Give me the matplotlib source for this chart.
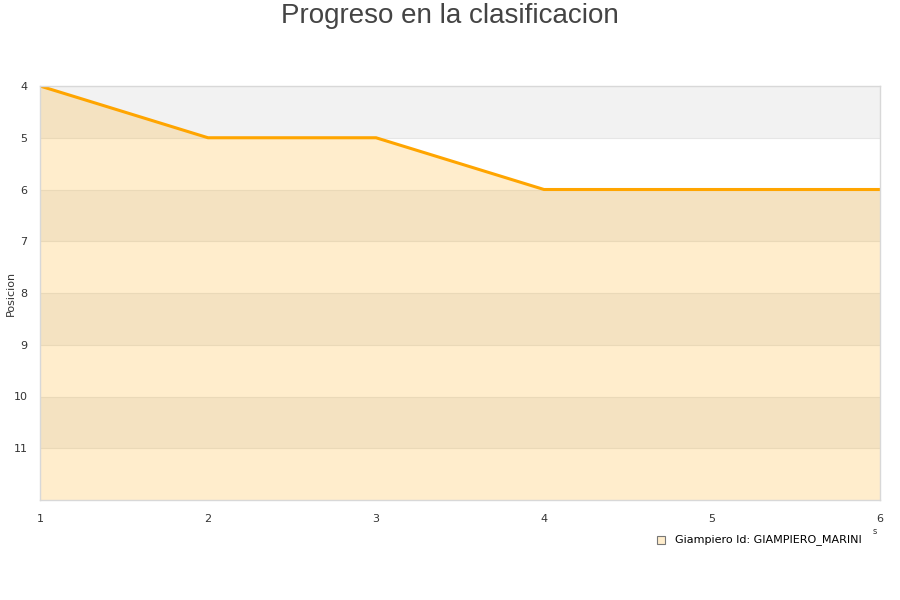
import matplotlib
matplotlib.use("Agg")
import matplotlib.pyplot as plt
from matplotlib.patches import Rectangle

jornadas = [1, 2, 3, 4, 5, 6]
posiciones = [4, 5, 5, 6, 6, 6]
x_ticks = [1, 2, 3, 4, 5, 6]
y_ticks = [4, 5, 6, 7, 8, 9, 10, 11]
serie = "Giampiero Id: GIAMPIERO_MARINI"
titulo = "Progreso en la clasificacion"

fig = plt.figure(figsize=(9, 6), dpi=100)
ax = fig.add_axes([40/900, 1-500/600, 840/900, 414/600])
ax.set_xlim(1, 6)
ax.set_ylim(12, 4)

# alternating bands
for y0 in range(4, 12):
    col = "#f2f2f2" if (y0 % 2 == 0) else "#ffffff"
    ax.axhspan(y0, y0 + 1, color=col, zorder=0, lw=0)
for y0 in range(5, 12):
    ax.axhline(y0, color="#e6e6e6", lw=0.8, zorder=0.5)

ax.fill_between(jornadas, posiciones, 12, color="#ffa500", alpha=0.2, lw=0, zorder=1)
ax.plot(jornadas, posiciones, color="#ffa500", lw=2.2, zorder=2, solid_joinstyle="miter")

ax.set_xticks(x_ticks)
ax.set_yticks(y_ticks)
ax.tick_params(length=0, labelsize=8, colors="#333333", pad=10)
ax.tick_params(axis="y", pad=9)
for s in ax.spines.values():
    s.set_color("#d8d8d8")
    s.set_linewidth(1)

fig.text(11/900, 1-293/600, "Posicion", fontsize=8, color="#333333",
         rotation=90, ha="center", va="center")

fig.text(0.5, 1-16/600, titulo, ha="center", va="center", fontsize=20,
         color="#444444", family="Liberation Sans")

fig.text(875/900, 1-531/600, "s", fontsize=6, color="#333333", ha="center", va="center")

# legend
fig.patches.append(Rectangle((657/900, 1-544/600), 8/900, 8/600, transform=fig.transFigure,
                             facecolor="#ffedcc", edgecolor="#777777", lw=0.8))
fig.text(675/900, 1-540/600, serie, fontsize=8, color="#000000", ha="left", va="center")

fig.savefig("out.png", dpi=100)
